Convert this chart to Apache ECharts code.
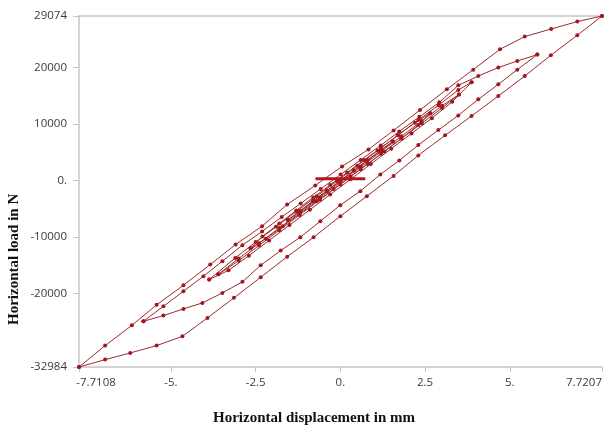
<!DOCTYPE html>
<html>
<head>
<meta charset="utf-8">
<script src="https://cdn.jsdelivr.net/npm/echarts@6/dist/echarts.min.js"></script>
<style>
html,body{margin:0;padding:0;background:#fff;}
#chart{width:605px;height:428px;}
</style>
</head>
<body>
<div id="chart"></div>
<script>
// Tick values and labels
const xTicks = [-7.7108, -5, -2.5, 0, 2.5, 5, 7.7207];
const xTickLabels = ['-7.7108', '-5.', '-2.5', '0.', '2.5', '5.', '7.7207'];
const yTicks = [-32984, -20000, -10000, 0, 10000, 20000, 29074];
const yTickLabels = ['-32984', '-20000', '-10000', '0.', '10000', '20000', '29074'];

const xTitle = 'Horizontal displacement in mm';
const yTitle = 'Horizontal load in N';

// Cycle 1 (largest): loading branch and unloading branch [displacement mm, load N]
const loop1Load = [[-7.7108,-32984],[-6.94,-31680],[-6.20,-30500],[-5.42,-29200],[-4.66,-27560],[-3.92,-24300],[-3.14,-20760],[-2.35,-17120],[-1.57,-13490],[-0.79,-10040],[0.0,-6320],[0.78,-2780],[1.57,800],[2.30,4430],[3.09,7970],[3.87,11380],[4.66,14920],[5.44,18460],[6.21,22130],[6.99,25670],[7.7207,29074]];
const loop1Unload = [[7.7207,29074],[6.99,28090],[6.22,26780],[5.44,25430],[4.71,23190],[3.92,19590],[3.14,16110],[2.35,12440],[1.57,8850],[0.83,5490],[0.05,2480],[-0.74,-890],[-1.57,-4250],[-2.31,-8090],[-3.09,-11330],[-3.84,-14870],[-4.63,-18530],[-5.42,-22000],[-6.15,-25610],[-6.94,-29200],[-7.7108,-32984]];

// Cycle 2
const loop2Load = [[-5.81,-24900],[-5.22,-23900],[-4.63,-22710],[-4.07,-21650],[-3.48,-19880],[-2.89,-17930],[-2.35,-14990],[-1.76,-12390],[-1.18,-10040],[-0.59,-7200],[0.0,-4370],[0.59,-1890],[1.18,1060],[1.74,3540],[2.30,6250],[2.89,8900],[3.48,11500],[4.07,14340],[4.66,16990],[5.22,19590],[5.81,22250]];
const loop2Unload = [[5.81,22250],[5.22,21120],[4.66,19950],[4.07,18460],[3.48,16810],[2.92,13810],[2.33,11240],[1.74,8670],[1.19,6200],[0.60,3630],[0.01,1060],[-0.58,-1500],[-1.17,-4070],[-1.73,-6460],[-2.31,-9030],[-2.89,-11450],[-3.48,-14280],[-4.04,-16940],[-4.63,-19590],[-5.22,-22250],[-5.81,-24900]];

// Cycle 3 (two nearly coincident repetitions)
const loop3Load = [[-3.87,-17520],[-3.30,-15900],[-2.70,-13300],[-2.10,-10600],[-1.50,-7900],[-0.90,-5200],[-0.30,-2500],[0.30,200],[0.90,2900],[1.50,5600],[2.10,8300],[2.70,11000],[3.30,13900],[3.87,17350]];
const loop3Unload = [[3.87,17350],[3.48,16000],[2.90,13300],[2.30,10700],[1.70,8000],[1.10,5300],[0.50,2600],[-0.10,-100],[-0.70,-2800],[-1.30,-5500],[-1.90,-8200],[-2.50,-10900],[-3.10,-13700],[-3.87,-17520]];
const loop3bLoad = [[-3.60,-16600],[-3.00,-14200],[-2.40,-11500],[-1.80,-8800],[-1.20,-6100],[-0.60,-3400],[0.00,-700],[0.60,2000],[1.20,4700],[1.80,7400],[2.40,10100],[3.00,12800],[3.50,15200]];
const loop3bUnload = [[3.50,15200],[3.00,13200],[2.40,10500],[1.80,7800],[1.20,5100],[0.60,2400],[0.00,-300],[-0.60,-3000],[-1.20,-5700],[-1.80,-8400],[-2.40,-11100],[-3.00,-13800],[-3.60,-16600]];

// Cycle 4
const loop4Load = [[-2.65,-12000],[-2.20,-10300],[-1.70,-8100],[-1.20,-5900],[-0.70,-3700],[-0.20,-1500],[0.30,700],[0.80,2900],[1.30,5100],[1.80,7400],[2.30,9800],[2.65,11900]];
const loop4Unload = [[2.65,11900],[2.20,10200],[1.70,8000],[1.20,5800],[0.70,3600],[0.20,1400],[-0.30,-800],[-0.80,-3000],[-1.30,-5300],[-1.80,-7600],[-2.30,-9900],[-2.65,-12000]];

// Cycle 5
const loop5Load = [[-1.55,-7000],[-1.20,-5500],[-0.80,-3700],[-0.40,-1900],[0.00,-100],[0.40,1700],[0.80,3500],[1.20,5300],[1.55,6900]];
const loop5Unload = [[1.55,6900],[1.20,5400],[0.80,3600],[0.40,1800],[0.00,0],[-0.40,-1800],[-0.80,-3600],[-1.20,-5400],[-1.55,-7000]];

// Horizontal bar near the origin
const zeroBar = [[-0.735,300],[0.735,300]];

const loops = [loop1Load, loop1Unload, loop2Load, loop2Unload, loop3Load, loop3Unload, loop3bLoad, loop3bUnload, loop4Load, loop4Unload, loop5Load, loop5Unload];

const lineColor = '#9a2a2c';
const dotColor = '#a0181e';
const labelFont = '"Open Sans", "Noto Sans", sans-serif';

const chart = echarts.init(document.getElementById('chart'), null, {renderer: 'canvas'});

const series = loops.map(d => ({
  type: 'line',
  data: d,
  symbol: 'circle',
  symbolSize: 4,
  showSymbol: true,
  lineStyle: {color: lineColor, width: 1},
  itemStyle: {color: dotColor},
  emphasis: {disabled: true},
  silent: true,
  animation: false,
  z: 3
}));
series.push({
  type: 'line',
  data: zeroBar,
  symbol: 'none',
  lineStyle: {color: '#b5141a', width: 3},
  silent: true,
  animation: false,
  z: 4
});

function xFmt(v) {
  const i = xTicks.findIndex(t => Math.abs(t - v) < 1e-6);
  const s = i >= 0 ? xTickLabels[i] : String(v);
  if (i === 0) return '{l|' + s + '}';
  if (i === xTicks.length - 1) return '{r|' + s + '}';
  return '{n|' + s + '}';
}
function yFmt(v) {
  const i = yTicks.findIndex(t => Math.abs(t - v) < 1e-6);
  return i >= 0 ? yTickLabels[i] : String(v);
}

const axisGray = '#c4c4c4';
const lblStyle = {color: '#3a3a3a', fontSize: 11.5, fontFamily: labelFont};

chart.setOption({
  backgroundColor: '#ffffff',
  animation: false,
  grid: {left: 79, right: 1, top: 16, bottom: 61, containLabel: false},
  xAxis: [{
    type: 'value',
    min: xTicks[0],
    max: xTicks[xTicks.length - 1],
    position: 'bottom',
    splitLine: {show: false},
    axisLine: {show: true, onZero: false, lineStyle: {color: axisGray, width: 1.5}},
    axisTick: {show: true, length: 5, customValues: xTicks, lineStyle: {color: axisGray, width: 1}},
    axisLabel: {
      show: true, margin: 10, customValues: xTicks, formatter: xFmt,
      rich: {
        n: lblStyle,
        l: Object.assign({}, lblStyle, {padding: [0, 0, 0, 34]}),
        r: Object.assign({}, lblStyle, {padding: [0, 36, 0, 0]})
      }
    }
  }, {
    type: 'value',
    min: xTicks[0],
    max: xTicks[xTicks.length - 1],
    position: 'top',
    splitLine: {show: false},
    axisLine: {show: true, onZero: false, lineStyle: {color: axisGray, width: 1.5}},
    axisTick: {show: false},
    axisLabel: {show: false}
  }],
  yAxis: {
    type: 'value',
    min: yTicks[0],
    max: yTicks[yTicks.length - 1],
    splitLine: {show: false},
    axisLine: {show: true, onZero: false, lineStyle: {color: axisGray, width: 1.5}},
    axisTick: {show: true, length: 6, customValues: yTicks, lineStyle: {color: axisGray, width: 1}},
    axisLabel: {
      show: true, margin: 12, customValues: yTicks, formatter: yFmt,
      color: '#3a3a3a', fontSize: 11.5, fontFamily: labelFont
    }
  },
  graphic: [{
    type: 'text',
    left: 213,
    top: 411,
    style: {text: xTitle, font: 'bold 15px "Liberation Serif", "Times New Roman", serif', fill: '#111'}
  }, {
    type: 'text',
    x: 7,
    y: 325,
    rotation: Math.PI / 2,
    style: {text: yTitle, font: 'bold 15px "Liberation Serif", "Times New Roman", serif', fill: '#111', textAlign: 'left', textVerticalAlign: 'top'}
  }],
  series: series
});
</script>
</body>
</html>
